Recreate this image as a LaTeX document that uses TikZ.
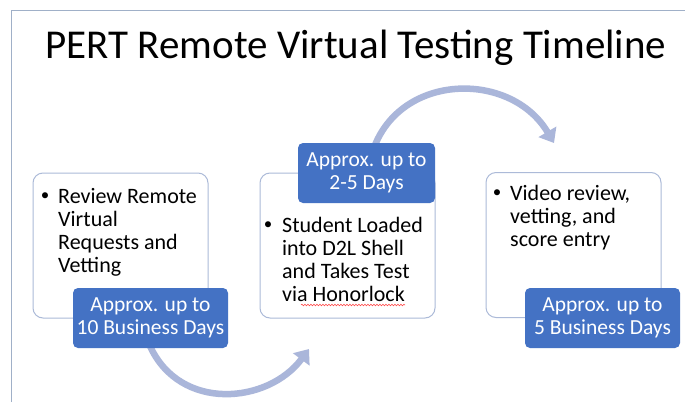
\documentclass[tikz,border=0pt]{standalone}
\usepackage{fontspec}
\setmainfont{Carlito}
\usetikzlibrary{arrows.meta,decorations.pathmorphing}
\definecolor{frameline}{RGB}{160,176,200}
\definecolor{boxline}{RGB}{172,186,216}
\definecolor{lblfill}{RGB}{68,114,196}
\definecolor{arcc}{RGB}{170,182,218}
\tikzset{
  box/.style={draw=boxline, line width=1pt, rounded corners=10pt, fill=white, minimum width=175pt, minimum height=145pt, inner sep=0pt},
  lbl/.style={fill=lblfill, rounded corners=5pt, text=white, align=center, minimum width=155pt, minimum height=60pt, inner sep=0pt, font=\fontsize{21.5}{23}\selectfont},
  btext/.style={align=left, anchor=base west, inner sep=0pt, font=\fontsize{22}{23}\selectfont},
  bul/.style={anchor=base, inner sep=0pt, font=\fontsize{17}{20}\selectfont},
  arcarrow/.style={draw=arcc, line width=6.5pt, -{Triangle[width=20pt,length=13pt]}},
}
\begin{document}
\begin{tikzpicture}[x=1pt,y=-1pt]
\useasboundingbox (0,0) rectangle (685,402);
\fill[white] (0,0) rectangle (685,402);
% frame
\coordinate (ftl) at (11,10);
\coordinate (ftr) at (685,10);
\coordinate (fbl) at (11,402);
\draw[frameline, line width=1pt] (fbl) -- (ftl) -- (ftr);
% title
\node[anchor=base, inner sep=0pt, font=\fontsize{41}{44}\selectfont] (title) at (356,58) {PERT Remote Virtual Testing Timeline};
% boxes
\node[box] (b1) at (120.5,245.5) {};
\node[box] (b2) at (347.5,245.5) {};
\node[box] (b3) at (573.5,245) {};
% arcs
\coordinate (e1) at (309,349);
\coordinate (e2) at (554,143);
\draw[arcarrow] (150,346) .. controls (180,412) and (268,404) .. (e1);
\draw[arcarrow] (375,145) .. controls (405,72) and (512,72) .. (e2);
% box texts (base anchor = last line)
\node[bul] (u1) at (45,200.5) {\textbullet};
\node[btext] (t1) at (58,272) {Review Remote\\Virtual\\Requests and\\Vetting};
\node[bul] (u2) at (268,229.5) {\textbullet};
\node[btext] (t2) at (282,301) {Student Loaded\\into D2L Shell\\and Takes Test\\via Honorlock};
\node[bul] (u3) at (497,197.5) {\textbullet};
\node[btext] (t3) at (510,246) {Video review,\\vetting, and\\score entry};
% spell-check underline
\draw[red!70, line width=0.6pt, decorate, decoration={snake, amplitude=0.8pt, segment length=3pt}] (301,305) -- (405,305);
% labels
\node[lbl] (l1) at (150.5,318) {Approx. up to\\10 Business Days};
\node[lbl, minimum width=137pt] (l2) at (366.5,173) {Approx. up to\\2-5 Days};
\node[lbl] (l3) at (602.5,318) {Approx. up to\\5 Business Days};
\end{tikzpicture}
\end{document}
